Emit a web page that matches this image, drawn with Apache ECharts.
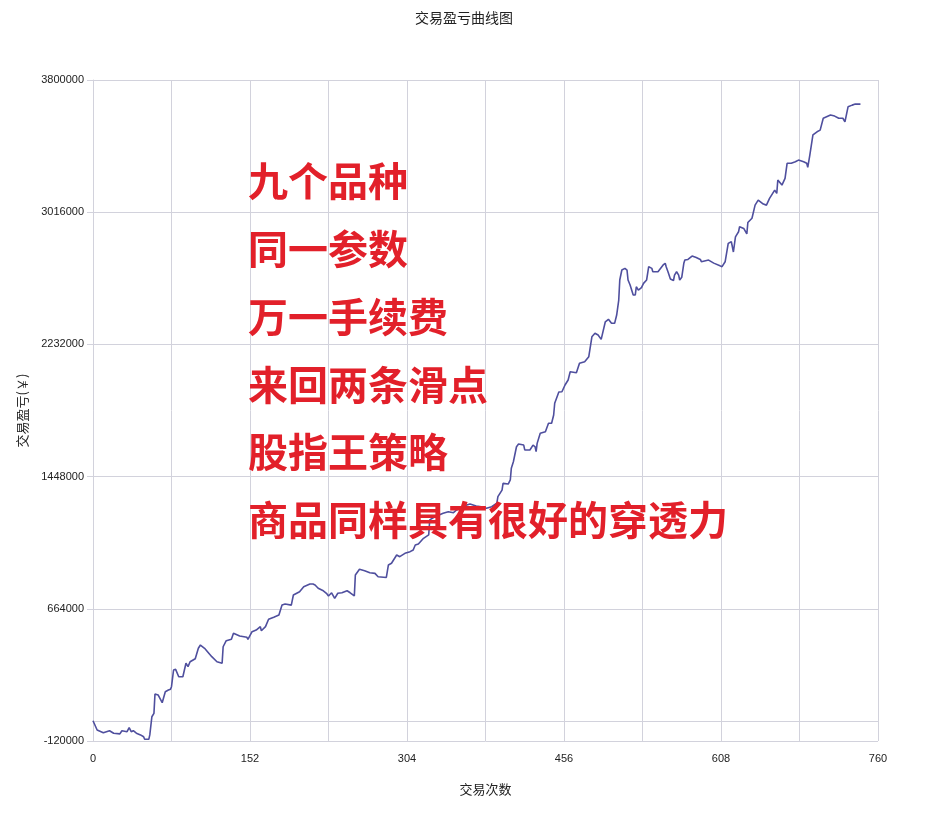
<!DOCTYPE html>
<html>
<head>
<meta charset="utf-8">
<script src="https://cdn.jsdelivr.net/npm/echarts@6/dist/echarts.min.js"></script>
<style>
html,body{margin:0;padding:0;background:#fff;}
#chart{width:928px;height:815px;}
</style>
</head>
<body>
<div id="chart"></div>
<script>
var chartTitle = '交易盈亏曲线图';
var xAxisName = '交易次数';
var yAxisName = '交易盈亏(￥)';
var yTicks = [-120000, 664000, 1448000, 2232000, 3016000, 3800000];
var xTicks = [0, 152, 304, 456, 608, 760];
var notes = ['九个品种', '同一参数', '万一手续费', '来回两条滑点', '股指王策略', '商品同样具有很好的穿透力'];

var trades = [0,4,10,16,20,26,28,33,35,37,39,42,46,49,50,54,55,56,57,59,60,63,67,68,70,73,75,76,78,80,83,87,90,92,94,99,102,104,108,115,120,125,126,129,134,136,142,149,150,154,158,162,163,167,170,175,180,183,186,192,194,200,204,210,213,215,218,223,226,228,231,234,237,241,246,249,253,254,258,263,268,273,276,284,286,289,294,297,302,307,310,312,315,320,321,325,326,331,339,344,349,352,359,365,371,376,381,386,391,392,396,397,402,404,405,407,410,412,417,418,423,426,428,429,430,433,438,441,444,446,447,451,454,457,460,462,468,471,476,480,481,483,486,489,492,496,499,502,505,507,509,510,512,515,517,518,520,523,525,526,528,531,533,536,538,541,542,547,552,554,555,557,559,562,563,565,567,568,570,572,573,576,580,581,584,588,589,593,596,601,607,609,612,615,618,620,622,625,626,630,633,634,638,641,644,649,652,655,660,662,663,667,670,672,676,680,683,688,691,692,694,697,701,704,707,714,718,722,726,728,731,735,738,743];
var pnl = [0,-55000,-71000,-59000,-74000,-78000,-59000,-65000,-41000,-65000,-59000,-74000,-84000,-95000,-110000,-110000,-84000,-95000,24000,44000,159000,153000,107000,107000,172000,182000,187000,202000,301000,305000,261000,261000,341000,321000,350000,368000,430000,449000,430000,380000,350000,341000,439000,475000,483000,519000,503000,495000,483000,528000,538000,558000,534000,558000,602000,614000,627000,686000,692000,686000,746000,765000,795000,811000,811000,805000,786000,771000,756000,740000,759000,726000,756000,759000,771000,759000,740000,864000,898000,890000,878000,874000,854000,850000,924000,934000,983000,973000,993000,1003000,1013000,1042000,1048000,1082000,1088000,1102000,1191000,1210000,1230000,1240000,1234000,1250000,1274000,1285000,1274000,1269000,1260000,1269000,1290000,1329000,1368000,1408000,1404000,1428000,1497000,1536000,1625000,1641000,1635000,1606000,1606000,1635000,1625000,1596000,1645000,1705000,1714000,1764000,1764000,1813000,1883000,1950000,1951000,1991000,2021000,2070000,2064000,2120000,2129000,2159000,2169000,2277000,2298000,2288000,2262000,2366000,2381000,2357000,2357000,2406000,2495000,2614000,2673000,2683000,2673000,2614000,2584000,2525000,2525000,2574000,2554000,2569000,2594000,2614000,2693000,2683000,2663000,2663000,2703000,2713000,2691000,2657000,2620000,2611000,2643000,2663000,2643000,2614000,2630000,2713000,2732000,2736000,2756000,2762000,2747000,2736000,2722000,2728000,2732000,2714000,2698000,2693000,2722000,2831000,2841000,2780000,2870000,2900000,2930000,2920000,2887000,2955000,2980000,3058000,3088000,3064000,3058000,3098000,3147000,3128000,3207000,3177000,3217000,3306000,3306000,3315000,3325000,3315000,3306000,3282000,3355000,3474000,3493000,3503000,3573000,3592000,3586000,3573000,3573000,3552000,3641000,3651000,3657000,3657000];

var seriesData = trades.map(function (t, i) { return [t, pnl[i]]; });

var gridColor = '#d2d2dc';
var labelFont = 'Liberation Sans, Arial, sans-serif';
var cjkFont = '"Noto Sans CJK SC", sans-serif';

var noteGraphics = notes.map(function (txt, i) {
  return {
    type: 'text',
    left: 248,
    top: 161 + i * 67.8,
    style: {
      text: txt,
      fill: '#e2202a',
      font: 'bold 40px "Noto Sans CJK SC", sans-serif'
    },
    z: 100
  };
});

var chart = echarts.init(document.getElementById('chart'), null, {renderer: 'canvas'});
chart.setOption({
  animation: false,
  backgroundColor: '#ffffff',
  title: {
    text: chartTitle,
    left: 'center',
    top: 6,
    textStyle: {fontSize: 14, fontWeight: 'normal', color: '#222', fontFamily: cjkFont}
  },
  grid: {left: 93, right: 50, top: 80, bottom: 74, containLabel: false},
  xAxis: {
    type: 'value',
    min: 0,
    max: 760,
    interval: 76,
    name: xAxisName,
    nameLocation: 'middle',
    nameGap: 42,
    nameTextStyle: {fontSize: 13, color: '#222', fontFamily: cjkFont},
    axisLine: {show: true, lineStyle: {color: gridColor, width: 1}},
    axisTick: {show: true, length: 5, lineStyle: {color: gridColor}},
    axisLabel: {
      margin: 12,
      fontSize: 11,
      color: '#222',
      fontFamily: labelFont,
      formatter: function (v) { return xTicks.indexOf(v) >= 0 ? String(v) : ''; }
    },
    splitLine: {show: true, lineStyle: {color: gridColor, width: 1}}
  },
  yAxis: {
    type: 'value',
    min: yTicks[0],
    max: yTicks[yTicks.length - 1],
    name: yAxisName,
    nameLocation: 'middle',
    nameRotate: 90,
    nameGap: 64,
    nameTextStyle: {fontSize: 13, color: '#222', fontFamily: cjkFont},
    axisLine: {show: true, lineStyle: {color: gridColor, width: 1}},
    axisTick: {show: true, length: 6, customValues: yTicks, lineStyle: {color: gridColor}},
    axisLabel: {
      customValues: yTicks,
      margin: 9,
      fontSize: 11,
      color: '#222',
      fontFamily: labelFont,
      formatter: function (v) { return String(v); }
    },
    splitLine: {show: true, lineStyle: {color: gridColor, width: 1}}
  },
  graphic: noteGraphics,
  series: [{
    type: 'line',
    data: seriesData,
    showSymbol: false,
    symbol: 'none',
    lineStyle: {color: '#4f4f9e', width: 1.6},
    itemStyle: {color: '#4f4f9e'},
    z: 5,
    markLine: {
      silent: true,
      symbol: 'none',
      label: {show: false},
      lineStyle: {color: gridColor, type: 'solid', width: 1},
      data: [{yAxis: 0}]
    }
  }]
});
</script>
</body>
</html>
